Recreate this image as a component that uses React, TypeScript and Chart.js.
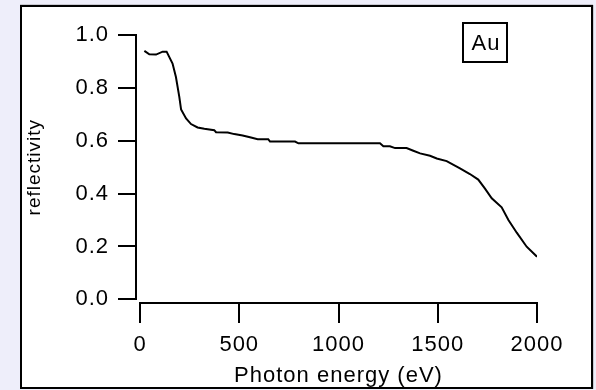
import React, { useEffect, useRef } from "react";
import { Chart, registerables } from "chart.js";

Chart.register(...registerables);

// ---- data ----
const energyEV = [
  22, 47, 81, 114, 134, 164, 181, 198, 207, 232, 257, 290, 324, 374, 383, 442,
  475, 517, 559, 593, 646, 655, 781, 798, 1209, 1226, 1259, 1285, 1343, 1377,
  1411, 1461, 1495, 1545, 1612, 1662, 1704, 1738, 1772, 1822, 1856, 1898, 1948,
  2000,
];
const reflectivity = [
  0.94, 0.927, 0.926, 0.937, 0.937, 0.892, 0.841, 0.766, 0.718, 0.684, 0.663,
  0.65, 0.645, 0.64, 0.632, 0.631, 0.625, 0.62, 0.612, 0.606, 0.606, 0.597,
  0.597, 0.59, 0.59, 0.579, 0.579, 0.572, 0.572, 0.562, 0.552, 0.543, 0.533,
  0.523, 0.495, 0.474, 0.453, 0.419, 0.382, 0.348, 0.3, 0.252, 0.199, 0.161,
];
const xTicks = [0, 500, 1000, 1500, 2000];
const yTicks = [0, 0.2, 0.4, 0.6, 0.8, 1.0];
const xTitle = "Photon energy (eV)";
const yTitle = "reflectivity";
const sampleLabel = "Au";

const FONT = "'Liberation Sans', Arial, Helvetica, sans-serif";
const SPACING = "1px";

export default function App() {
  const ref = useRef<HTMLCanvasElement>(null);

  useEffect(() => {
    const canvas = ref.current;
    if (!canvas) return;

    const spacingPlugin = {
      id: "spacing",
      beforeUpdate(c: any) {
        (c.ctx as any).letterSpacing = SPACING;
      },
      beforeDraw(c: any) {
        (c.ctx as any).letterSpacing = SPACING;
      },
    };

    const axesPlugin = {
      id: "axesDraw",
      afterDraw(c: any) {
        const ctx = c.ctx as CanvasRenderingContext2D;
        const xs = c.scales.x;
        const ys = c.scales.y;
        ctx.save();
        ctx.strokeStyle = "#000";
        ctx.lineWidth = 2;
        ctx.lineCap = "butt";
        const axX = Math.round(xs.getPixelForValue(xTicks[0])) - 4;
        const axY = Math.round(ys.getPixelForValue(yTicks[0])) + 4;
        const yTop = Math.round(ys.getPixelForValue(yTicks[yTicks.length - 1]));
        const yBot = Math.round(ys.getPixelForValue(yTicks[0]));
        const xLeft = Math.round(xs.getPixelForValue(xTicks[0]));
        const xRight = Math.round(xs.getPixelForValue(xTicks[xTicks.length - 1]));
        ctx.beginPath();
        // y axis
        ctx.moveTo(axX, yTop - 1);
        ctx.lineTo(axX, yBot + 1);
        for (const t of yTicks) {
          const py = Math.round(ys.getPixelForValue(t));
          ctx.moveTo(axX - 18, py);
          ctx.lineTo(axX, py);
        }
        // x axis
        ctx.moveTo(xLeft - 1, axY);
        ctx.lineTo(xRight + 1, axY);
        for (const t of xTicks) {
          const px = Math.round(xs.getPixelForValue(t));
          ctx.moveTo(px, axY);
          ctx.lineTo(px, axY + 20);
        }
        ctx.stroke();

        // sample label box
        const bx = Math.round(xs.right) - 74;
        const by = Math.round(ys.top) - 12;
        const bw = 44;
        const bh = 39;
        ctx.fillStyle = "#fff";
        ctx.fillRect(bx, by, bw, bh);
        ctx.strokeRect(bx, by, bw, bh);
        ctx.fillStyle = "#000";
        ctx.font = `22px ${FONT}`;
        (ctx as any).letterSpacing = SPACING;
        ctx.textAlign = "center";
        ctx.textBaseline = "middle";
        ctx.fillText(sampleLabel, bx + bw / 2 + 1, by + bh / 2 + 1);
        ctx.restore();
      },
    };

    const chart = new Chart(canvas, {
      type: "line",
      data: {
        datasets: [
          {
            data: energyEV.map((e, i) => ({ x: e, y: reflectivity[i] })),
            borderColor: "#000",
            borderWidth: 2,
            pointRadius: 0,
            fill: false,
            tension: 0,
          },
        ],
      },
      options: {
        animation: false,
        responsive: false,
        devicePixelRatio: 1,
        layout: { padding: { top: 35, right: 59, left: 0, bottom: 0 } },
        plugins: {
          legend: { display: false },
          tooltip: { enabled: false },
        },
        scales: {
          x: {
            type: "linear",
            min: 0,
            max: 2000,
            afterFit: (s: any) => {
              s.height = 90.7;
              s.paddingLeft = 0;
              s.paddingRight = 0;
            },
            afterBuildTicks: (s: any) => {
              s.ticks = xTicks.map((v) => ({ value: v }));
            },
            grid: { display: false, drawTicks: false },
            border: { display: false },
            ticks: {
              color: "#000",
              font: { family: FONT, size: 22 },
              padding: 32,
              maxRotation: 0,
              callback: (v: any) => String(v),
            },
            title: {
              display: true,
              text: xTitle,
              color: "#000",
              font: { family: FONT, size: 22 },
              padding: { top: 0, bottom: 1 },
            },
          },
          y: {
            type: "linear",
            min: 0,
            max: 1,
            afterFit: (s: any) => {
              s.width = 140;
              s.paddingTop = 0;
              s.paddingBottom = 0;
            },
            afterBuildTicks: (s: any) => {
              s.ticks = yTicks.map((v) => ({ value: v }));
            },
            grid: { display: false, drawTicks: false },
            border: { display: false },
            ticks: {
              color: "#000",
              font: { family: FONT, size: 22 },
              padding: 31,
              callback: (v: any) => Number(v).toFixed(1),
            },
            title: {
              display: true,
              text: yTitle,
              color: "#000",
              font: { family: FONT, size: 19 },
              padding: { top: 23, bottom: 0 },
            },
          },
        },
      },
      plugins: [spacingPlugin, axesPlugin],
    } as any);

    return () => {
      chart.destroy();
    };
  }, []);

  return (
    <div
      style={{
        position: "fixed",
        left: 0,
        top: 0,
        width: 596,
        height: 390,
        overflow: "hidden",
        background: "#eeeefa",
      }}
    >
      <div
        style={{
          position: "absolute",
          left: 20,
          top: 5,
          width: 573,
          height: 384,
          background: "#fff",
          boxShadow: "0 -1px 0 #c8c8d0, 1px 0 0 #c8c8d0",
        }}
      />
      <canvas
        ref={ref}
        width={596}
        height={390}
        style={{ position: "absolute", left: 0, top: 0, width: 596, height: 390 }}
      />
      <div
        style={{
          position: "absolute",
          left: 20,
          top: 5,
          width: 573,
          height: 384,
          boxSizing: "border-box",
          border: "2px solid #000",
          pointerEvents: "none",
        }}
      />
    </div>
  );
}
